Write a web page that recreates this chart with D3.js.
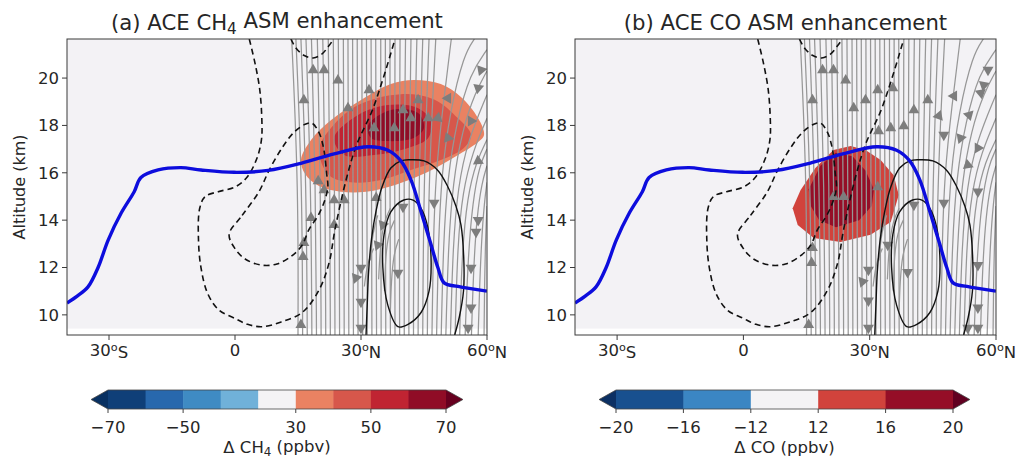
<!DOCTYPE html>
<meta charset="utf-8">
<style>
  body { margin: 0; background: #fff; }
  text { font-family: "DejaVu Sans", sans-serif; fill: #262626; }
</style>
<body>
<div id="chart"></div>
<script src="https://d3js.org/d3.v7.min.js"></script>
<script>

// ---- axes ----
var latDomain = [-40, 60];
var altDomain = [9.15, 21.65];
var fieldBottom = 9.42;   // lowest level of the gridded field
var latTicks = [-30, 0, 30, 60];
var latTickText = [["30", "S"], ["0", ""], ["30", "N"], ["60", "N"]];
var altTicks = [10, 12, 14, 16, 18, 20];

// ---- tropopause (blue), [lat, km] ----
var tropopause = [[-40,10.5],[-37.5,10.8],[-35,11.18],[-32.6,12.0],[-30.2,13.16],[-27.1,14.3],[-24,15.2],
  [-22.4,15.8],[-18.3,16.12],[-12.9,16.22],[-8.1,16.12],[-0.2,16.02],[7.9,16.1],[15.7,16.4],[23.6,16.8],
  [31.7,17.1],[36.4,16.95],[39.5,16.5],[41.9,15.7],[44.3,14.35],[46.7,12.95],[48.3,12.0],[49.8,11.35],
  [53.1,11.2],[60,11.0]];

// ---- black contours, [lat, km] ----
var negOuter = [[3.4,21.65],[4.8,20.6],[5.9,19.5],[6.4,18.2],[6.3,17.4],[5.2,16.6],[2.8,15.8],[0,15.4],
  [-4,15.2],[-7.1,15.0],[-8.4,14.5],[-8.7,13.2],[-8.1,12.0],[-6.5,10.9],[-3.8,10.2],[0,9.85],[3,9.6],
  [6.4,9.5],[11,9.7],[16,10.1],[20,11.05],[22.4,12.2],[23.8,13.6],[26.6,15.8],[29,17.2],[32.6,18.6],
  [35.3,20.0],[38.1,21.65]];
var negInner = [[-1.4,13.4],[1.7,14.2],[5.7,15.2],[8.1,16.1],[11.2,17.05],[14,17.7],[16.7,18.05],[18.3,18.1],
  [20,17.7],[20.9,17.2],[21.4,16.7],[21.8,16],[22.1,15.4],[21.3,14.8],[19.8,14.2],[17.6,13.6],[16,12.95],
  [13.6,12.5],[10,12.15],[6.4,12.1],[2.5,12.35],[0,12.8]];
var negTop = [[13.3,21.65],[14.6,21.25],[16.5,20.95],[18.6,20.85],[20.6,21.0],[22.3,21.35],[23.5,21.65]];
var posOuter = [[31.2,9.15],[31.5,10.5],[31.8,11.8],[32.5,13.2],[33.6,14.4],[35.0,15.4],[37.1,16.2],
  [39.5,16.5],[41.5,16.55],[45,16.5],[48.3,16.1],[50.7,15.4],[52.6,14.6],[53.8,13.8],[54.5,12.2],
  [54.4,11.0],[53.4,9.9],[52.3,9.15]];
var posInner = [[40.2,14.85],[37.1,14.35],[35.5,13.4],[35.2,12],[36.4,10.4],[38.8,9.5],[41.2,9.6],
  [44.3,10.1],[46.2,11],[46.7,12.2],[45.9,13.7],[44.3,14.5],[42.4,14.85]];

// ---- filled enhancement regions, [lat, km] ----
var ch4Fill30 = [[15.7,16.54],[18.1,17.38],[22.9,18.23],[30,19.07],[37.1,19.75],[42.6,19.92],[49,19.75],
  [53.8,19.2],[57.9,18.3],[59.3,17.6],[57.9,17.3],[52.6,16.7],[45.5,16.0],[38.3,15.5],[31.2,15.2],
  [25.2,15.2],[20,15.44],[16.7,15.95]];
var ch4Fill40 = [[20,16.96],[22.9,17.9],[29.3,18.86],[39.5,19.32],[47.4,19.1],[53.1,18.3],[56.2,17.6],
  [54.5,17.05],[49,16.54],[41.9,16.12],[34.8,15.7],[27.6,15.6],[22.4,15.9]];
var ch4Fill50 = [[23.6,17.47],[29.3,18.44],[36.4,18.86],[43.6,18.73],[46.7,18.19],[46,17.47],[41.2,17.05],
  [33.1,16.75],[26,16.75]];
var ch4Fill60 = [[31.7,18.0],[37.1,18.65],[43.6,18.52],[45,17.89],[42.6,17.47],[36.4,17.34],[32.4,17.47]];
var coFill12 = [[11.7,14.5],[13.6,15.27],[17.1,16.2],[21.4,16.96],[25.5,17.13],[29,16.96],[32.6,16.54],
  [35.7,15.9],[36.9,15.06],[35,13.92],[30.2,13.38],[23.1,13.08],[16.7,13.25],[12.9,13.8]];
var coFill16 = [[15.5,15.3],[18.3,16.3],[21.9,16.85],[25.9,16.7],[29,16.1],[31,15.3],[30.5,14.6],
  [27.5,14.0],[22,13.7],[18,14.0],[16,14.6]];

// ---- streamlines ----
// near-vertical lines: [lat at bottom, lat at 15.4 km, lat at top]
var streamUp = [[15.0,15.1,13.5],[16.1,16.0,14.5],[17.2,17.0,15.7],[18.3,18.1,16.9],[19.4,19.2,18.2],
  [20.5,20.4,19.6],[21.6,21.5,20.9],[22.7,22.6,22.2],[23.8,23.7,23.4],[24.9,24.8,24.6],[26.0,25.9,25.8],
  [27.1,27.0,26.9],[28.2,28.1,28.0],[29.3,29.2,29.1],[30.4,30.3,30.2],[31.5,31.4,31.3],[32.6,32.5,32.4],
  [33.7,33.6,33.5],[34.8,34.7,34.7],[35.9,35.8,35.8],[37.0,36.9,36.9],[38.1,38.0,38.1],[39.2,39.1,39.3],
  [40.3,40.2,40.6],[41.4,41.4,41.9],[42.5,42.5,43.3],[43.6,43.7,44.7],[44.7,44.9,46.2],[45.8,46.0,47.8]];
// lines bending out through the right edge, lines coming in from it, and short hooks
var streamCurved = [
  [[46.9,9.15],[47.2,13],[47.8,16],[49.5,18.8],[51.5,21.65]],
  [[48.0,9.15],[48.4,13],[49.2,16],[51.2,18.6],[54.5,21.0],[57,21.65]],
  [[49.1,9.15],[49.6,13],[50.6,15.8],[52.8,18.2],[56,20.2],[60,21.2]],
  [[50.2,9.15],[50.8,13],[51.9,15.6],[54.1,17.8],[57.2,19.4],[60,20.3]],
  [[51.3,9.15],[51.9,13],[53.1,15.4],[55.3,17.3],[60,19.3]],
  [[52.4,9.15],[53.0,13],[54.2,15.2],[56.6,16.9],[60,18.3]],
  [[53.5,9.15],[54.0,12.5],[55.3,15.0],[57.5,16.5],[60,17.4]],
  [[60,17.0],[58.2,16.3],[56.6,14.8],[55.5,12.5],[54.8,9.15]],
  [[60,16.3],[58.8,15.6],[57.6,14.2],[56.8,12],[56.3,9.15]],
  [[60,15.6],[59.4,14.8],[58.7,13.2],[58.2,11],[57.9,9.15]],
  [[60,14.6],[59.6,13],[59.4,11],[59.3,9.15]],
  [[37.0,14.5],[35.6,14.0],[34.6,13.0],[34.2,11.5]],
  [[38.0,14.0],[36.6,13.5],[35.8,12.4],[35.6,11.0]],
  [[34.0,14.2],[32.8,13.5],[32.2,12.3]],
  [[39.0,13.2],[37.8,12.6],[37.2,11.4],[37.0,10.2]],
  [[33.0,12.8],[31.5,12.2],[30.8,11.2]]
];
// arrow heads: [lat, km, heading in degrees, 0 = up]
var arrowsA = [[18.6,20.34,0],[21.2,20.34,0],[24.5,19.9,0],[16.4,19.07,0],[31.9,19.49,0],[43.6,19.07,0],
  [50.7,19.15,30],[40,18.65,0],[41.9,18.31,0],[46,18.31,0],[48.3,18.31,10],[33.1,17.89,0],[37.9,17.89,0],
  [26.9,18.73,0],[19.8,15.65,0],[21.2,15.27,0],[23.6,14.85,0],[26,14.85,0],[33.6,14.94,0],[18.1,14.1,0],
  [16.4,13.04,0],[16.2,12.45,0],[23.6,13.8,0],[15.7,9.58,0],
  [58.6,20.34,80],[57.9,19.58,70],[56.2,18.19,90],[50.7,17.47,100],[57.9,16.5,235],
  [40,14.56,180],[47.4,14.73,180],[35.2,13.8,200],[34,12.95,200],[38.8,11.77,180],[57.9,14,180],
  [57.4,13.5,180],[30,11.98,180],[28.8,11.56,200],[56.2,11.98,180],[56.2,10.3,180],[55.5,9.45,180],
  [30,10.55,180],[30,9.45,180]];
var arrowsB = [[18.8,20.34,0],[21.4,20.34,0],[24.3,19.9,0],[16.4,19.07,0],[26.2,18.73,0],[29,19.07,0],
  [31.9,19.49,0],[35.5,19.58,0],[32.1,17.76,0],[35,17.89,0],[38.1,17.97,0],[40.5,18.65,0],[43.8,19.07,0],
  [46.4,18.4,20],[50,19.24,30],[53.6,18.44,45],[56.4,19.37,50],[58.1,20.34,60],
  [47.6,17.6,60],[51.6,17.47,80],[55.7,17.05,90],[53.3,16.33,110],[57.1,19.7,70],
  [16.4,12.83,0],[16.2,12.2,0],[15.5,9.58,0],[21.4,14.98,0],[23.8,14.98,0],[31.9,15.4,0],
  [34.3,12.95,180],[39,11.8,180],[40.5,14.64,180],[47.6,14.73,180],[55.7,15.2,180],[29.7,11.9,180],
  [28.3,11.4,200],[29.7,10.6,180],[29.7,9.45,180],[55.7,12.1,180],[55.7,10.3,180],[53.3,9.45,180],
  [55.7,9.45,180]];

// ---- colour bars ----
var ch4Levels = [-70, -60, -50, -40, -30, 30, 40, 50, 60, 70];
var ch4Colors = ["#0f3f78", "#2868ad", "#3f8bc3", "#70b1d9", "#f4f3f5", "#ea8262", "#d7574b", "#c02432", "#900c26"];
var ch4Ends = ["#083061", "#67001f"];
var ch4TickVals = [-70, -50, 30, 50, 70];
var coLevels = [-20, -16, -12, 12, 16, 20];
var coColors = ["#18508f", "#3b86c3", "#f4f3f5", "#d1433c", "#950e27"];
var coEnds = ["#0c3063", "#610020"];
var coTickVals = [-20, -16, -12, 12, 16, 20];

// =================================================================
var W = 1019, H = 460, plotTop = 39, plotBottom = 335;

var svg = d3.select("#chart").append("svg")
    .attr("width", W).attr("height", H);

var panels = [
  { id: "a", left: 67, right: 487, title: ["(a) ACE CH", "4", " ASM enhancement"],
    fills: [[ch4Fill30, ch4Colors[5]], [ch4Fill40, ch4Colors[6]], [ch4Fill50, ch4Colors[7]], [ch4Fill60, ch4Colors[8]]],
    fillCurve: d3.curveCatmullRomClosed.alpha(0.5), arrows: arrowsA,
    cb: { levels: ch4Levels, colors: ch4Colors, ends: ch4Ends, ticks: ch4TickVals, x0: 108, x1: 446,
          label: ["\u0394 CH", "4", " (ppbv)"] } },
  { id: "b", left: 575, right: 996, title: ["(b) ACE CO ASM enhancement", "", ""],
    fills: [[coFill12, coColors[3]], [coFill16, coColors[4]]],
    fillCurve: d3.curveLinearClosed, arrows: arrowsB,
    cb: { levels: coLevels, colors: coColors, ends: coEnds, ticks: coTickVals, x0: 616, x1: 953,
          label: ["\u0394 CO (ppbv)", "", ""] } }
];

function subText(sel, parts) {
  sel.append("tspan").text(parts[0]);
  if (parts[1]) {
    sel.append("tspan").attr("dy", "0.28em").attr("font-size", "72%").text(parts[1]);
    sel.append("tspan").attr("dy", "-0.28em").text(parts[2]);
  }
}

function fmt(v) { return v < 0 ? "\u2212" + Math.abs(v) : String(v); }

panels.forEach(function(p) {
  var x = d3.scaleLinear().domain(latDomain).range([p.left, p.right]);
  var y = d3.scaleLinear().domain(altDomain).range([plotBottom, plotTop]);

  var g = svg.append("g");
  g.append("clipPath").attr("id", "clip" + p.id)
    .append("rect").attr("x", p.left).attr("y", plotTop)
    .attr("width", p.right - p.left).attr("height", plotBottom - plotTop);
  var plot = g.append("g").attr("clip-path", "url(#clip" + p.id + ")");

  // background of the gridded field (neutral colour bin)
  plot.append("rect")
    .attr("x", x(latDomain[0])).attr("y", y(altDomain[1]))
    .attr("width", x(latDomain[1]) - x(latDomain[0]))
    .attr("height", y(fieldBottom) - y(altDomain[1]))
    .attr("fill", "#f3f2f5");

  var line = d3.line().x(function(d) { return x(d[0]); }).y(function(d) { return y(d[1]); });

  // filled contours
  p.fills.forEach(function(f) {
    plot.append("path").datum(f[0])
      .attr("fill", f[1])
      .attr("d", line.curve(p.fillCurve));
  });

  // streamlines
  var sg = plot.append("g").attr("fill", "none").attr("stroke", "#979797").attr("stroke-width", 1.25);
  streamUp.forEach(function(s) {
    var pts = [[s[0], altDomain[0]], [s[1], 15.4], [s[2], altDomain[1]]];
    sg.append("path").datum(pts).attr("d", line.curve(d3.curveBasis));
  });
  streamCurved.forEach(function(s) {
    sg.append("path").datum(s).attr("d", line.curve(d3.curveBasis));
  });

  // arrow heads
  plot.append("g").selectAll("path").data(p.arrows).join("path")
    .attr("d", d3.symbol().type(d3.symbolTriangle).size(52))
    .attr("fill", "#7d7d7d")
    .attr("transform", function(d) { return "translate(" + x(d[0]) + "," + y(d[1]) + ") rotate(" + d[2] + ")"; });

  // black contours
  var cg = plot.append("g").attr("fill", "none").attr("stroke", "#111");
  [negOuter, negTop].forEach(function(c) {
    cg.append("path").datum(c).attr("stroke-width", 1.6).attr("stroke-dasharray", "6,4")
      .attr("d", line.curve(d3.curveCatmullRom.alpha(0.5)));
  });
  cg.append("path").datum(negInner).attr("stroke-width", 1.6).attr("stroke-dasharray", "6,4")
    .attr("d", line.curve(d3.curveCatmullRomClosed.alpha(0.5)));
  cg.append("path").datum(posOuter).attr("stroke-width", 1.4)
    .attr("d", line.curve(d3.curveCatmullRom.alpha(0.5)));
  cg.append("path").datum(posInner).attr("stroke-width", 1.4)
    .attr("d", line.curve(d3.curveCatmullRomClosed.alpha(0.5)));

  // tropopause
  plot.append("path").datum(tropopause)
    .attr("fill", "none").attr("stroke", "#0d0ddd").attr("stroke-width", 3.4)
    .attr("stroke-linejoin", "round")
    .attr("d", line.curve(d3.curveCatmullRom.alpha(0.5)));

  // frame
  g.append("rect").attr("x", p.left).attr("y", plotTop)
    .attr("width", p.right - p.left).attr("height", plotBottom - plotTop)
    .attr("fill", "none").attr("stroke", "#3a3a3a").attr("stroke-width", 1);

  // x axis
  var xt = g.append("g").selectAll("g").data(latTicks).join("g")
    .attr("transform", function(d) { return "translate(" + x(d) + "," + plotBottom + ")"; });
  xt.append("line").attr("y2", 5).attr("stroke", "#3a3a3a");
  var xl = xt.append("text").attr("y", 21).attr("text-anchor", "middle").attr("font-size", 16.5);
  xl.each(function(d, i) {
    var t = d3.select(this), lab = latTickText[i];
    t.append("tspan").text(lab[0]);
    if (lab[1]) {
      t.append("tspan").attr("dy", "-0.45em").attr("font-size", "68%").text("o");
      t.append("tspan").attr("dy", "0.45em").text(lab[1]);
    }
  });

  // y axis
  var yt = g.append("g").selectAll("g").data(altTicks).join("g")
    .attr("transform", function(d) { return "translate(" + p.left + "," + y(d) + ")"; });
  yt.append("line").attr("x2", -5).attr("stroke", "#3a3a3a");
  yt.append("text").attr("x", -8).attr("dy", "0.36em").attr("text-anchor", "end")
    .attr("font-size", 16.5).text(function(d) { return d; });

  g.append("text")
    .attr("transform", "translate(" + (p.left - 42) + "," + ((plotTop + plotBottom) / 2) + ") rotate(-90)")
    .attr("text-anchor", "middle").attr("font-size", 16)
    .text("Altitude (km)");

  // title
  var tt = g.append("text").attr("x", (p.left + p.right) / 2).attr("y", 30)
    .attr("text-anchor", "middle").attr("font-size", 21.2);
  subText(tt, p.title);

  // colour bar
  var cb = p.cb, n = cb.colors.length;
  var cx = d3.scaleLinear().domain([0, n]).range([cb.x0, cb.x1]);
  var cy0 = 390, cy1 = 409, tip = 0.05 * (cb.x1 - cb.x0);
  var cbg = g.append("g");
  cbg.selectAll("rect").data(cb.colors).join("rect")
    .attr("x", function(d, i) { return cx(i); }).attr("y", cy0)
    .attr("width", cx(1) - cx(0) + 0.5).attr("height", cy1 - cy0)
    .attr("fill", function(d) { return d; });
  cbg.append("path").attr("fill", cb.ends[0])
    .attr("d", "M" + cx(0) + "," + cy0 + "L" + (cx(0) - tip) + "," + ((cy0 + cy1) / 2) + "L" + cx(0) + "," + cy1 + "Z");
  cbg.append("path").attr("fill", cb.ends[1])
    .attr("d", "M" + cx(n) + "," + cy0 + "L" + (cx(n) + tip) + "," + ((cy0 + cy1) / 2) + "L" + cx(n) + "," + cy1 + "Z");
  cbg.append("path").attr("fill", "none").attr("stroke", "#444").attr("stroke-width", 0.8)
    .attr("d", "M" + cx(0) + "," + cy0 + "L" + cx(n) + "," + cy0 + "L" + (cx(n) + tip) + "," + ((cy0 + cy1) / 2) +
      "L" + cx(n) + "," + cy1 + "L" + cx(0) + "," + cy1 + "L" + (cx(0) - tip) + "," + ((cy0 + cy1) / 2) + "Z");
  var ct = cbg.append("g").selectAll("g").data(cb.ticks).join("g")
    .attr("transform", function(d) { return "translate(" + cx(cb.levels.indexOf(d)) + "," + cy1 + ")"; });
  ct.append("line").attr("y2", 4).attr("stroke", "#444");
  ct.append("text").attr("y", 24).attr("text-anchor", "middle").attr("font-size", 16.5)
    .text(function(d) { return fmt(d); });
  var cl = cbg.append("text").attr("x", (cb.x0 + cb.x1) / 2).attr("y", 453)
    .attr("text-anchor", "middle").attr("font-size", 16.5);
  subText(cl, cb.label);
});

</script>
</body>
